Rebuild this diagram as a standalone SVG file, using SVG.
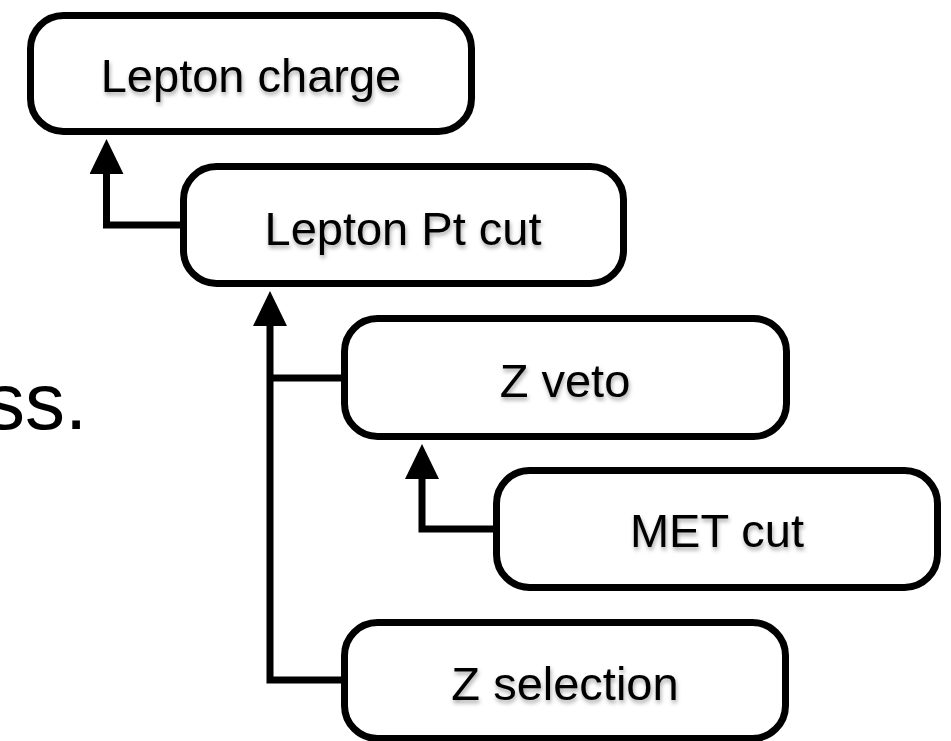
<svg xmlns="http://www.w3.org/2000/svg" width="951" height="741" viewBox="0 0 951 741">
  <style>
    .box { fill: #ffffff; stroke: #000000; stroke-width: 7; }
    .lbl { font-family: "Liberation Sans", Arial, sans-serif; font-size: 47px; fill: #000000; text-anchor: middle; filter: url(#shadow); }
    .conn { fill: none; stroke: #000000; stroke-width: 7; stroke-linejoin: miter; }
    .big { font-family: "Liberation Sans", Arial, sans-serif; font-size: 80px; fill: #000000; }
  </style>
  <defs>
    <filter id="shadow" x="-10%" y="-30%" width="120%" height="160%">
      <feDropShadow dx="1" dy="3" stdDeviation="2" flood-color="#000000" flood-opacity="0.35"/>
    </filter>
    <marker id="arrow" markerUnits="userSpaceOnUse" markerWidth="36" markerHeight="36" viewBox="0 0 36 36" refX="1" refY="17" orient="auto">
      <path d="M0,0 L35,17 L0,34 Z" fill="#000000"/>
    </marker>
  </defs>
  <rect width="951" height="741" fill="#ffffff"/>

  <text class="big" x="-15" y="429">ss.</text>

  <g id="connectors">
    <path class="conn" d="M183,225 H106.5 V173" marker-end="url(#arrow)"/>
    <path class="conn" d="M344,378 H270"/>
    <path class="conn" d="M344,680 H270 V325" marker-end="url(#arrow)"/>
    <path class="conn" d="M496,529 H422 V478" marker-end="url(#arrow)"/>
  </g>

  <g id="lepton-charge">
    <rect class="box" x="30.5" y="15.5" width="441" height="116" rx="33" ry="33"/>
    <text class="lbl" x="251" y="92">Lepton charge</text>
  </g>
  <g id="lepton-pt-cut">
    <rect class="box" x="183.5" y="166.5" width="440" height="117" rx="33" ry="33"/>
    <text class="lbl" x="403" y="245">Lepton Pt cut</text>
  </g>
  <g id="z-veto">
    <rect class="box" x="344.5" y="318.5" width="442" height="118" rx="33" ry="33"/>
    <text class="lbl" x="565" y="397">Z veto</text>
  </g>
  <g id="met-cut">
    <rect class="box" x="496.5" y="470.5" width="441" height="117" rx="33" ry="33"/>
    <text class="lbl" x="717" y="547">MET cut</text>
  </g>
  <g id="z-selection">
    <rect class="box" x="344.5" y="622.5" width="441" height="116" rx="33" ry="33"/>
    <text class="lbl" x="565" y="700">Z selection</text>
  </g>
</svg>
